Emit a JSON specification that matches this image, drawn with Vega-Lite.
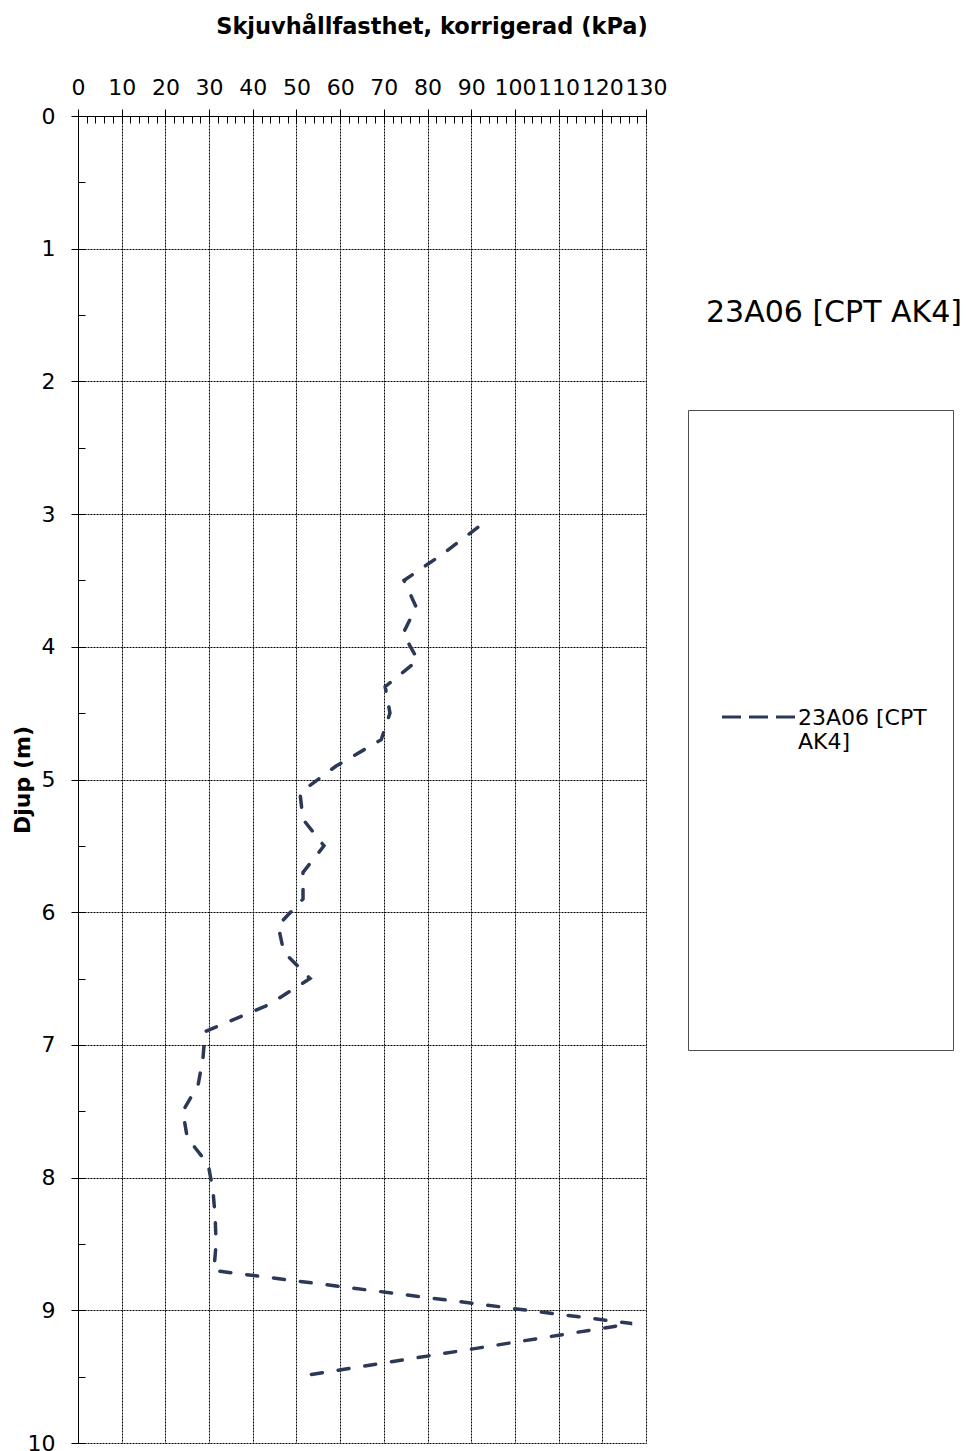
{
  "$schema": "https://vega.github.io/schema/vega-lite/v6.json",
  "width": 568,
  "height": 1327,
  "autosize": {"type": "none"},
  "padding": {"left": 78, "top": 116, "right": 320, "bottom": 8},
  "background": "white",
  "config": {"view": {"stroke": null}, "font": "DejaVu Sans"},
  "title": {"text": "23A06 [CPT AK4]", "anchor": "start", "frame": "group", "dx": 628, "dy": 332, "fontSize": 30, "fontWeight": "normal", "font": "DejaVu Sans", "color": "#000", "baseline": "middle"},
  "data": {"values": [
    {"serie": "23A06 [CPT AK4]", "djup": 3.1, "kPa": 91.5},
    {"serie": "23A06 [CPT AK4]", "djup": 3.3, "kPa": 83.5},
    {"serie": "23A06 [CPT AK4]", "djup": 3.5, "kPa": 74.6},
    {"serie": "23A06 [CPT AK4]", "djup": 3.7, "kPa": 77.4},
    {"serie": "23A06 [CPT AK4]", "djup": 3.9, "kPa": 74.4},
    {"serie": "23A06 [CPT AK4]", "djup": 4.1, "kPa": 77.8},
    {"serie": "23A06 [CPT AK4]", "djup": 4.3, "kPa": 70.3},
    {"serie": "23A06 [CPT AK4]", "djup": 4.5, "kPa": 71.4},
    {"serie": "23A06 [CPT AK4]", "djup": 4.7, "kPa": 69.4},
    {"serie": "23A06 [CPT AK4]", "djup": 4.9, "kPa": 59.0},
    {"serie": "23A06 [CPT AK4]", "djup": 5.1, "kPa": 50.8},
    {"serie": "23A06 [CPT AK4]", "djup": 5.3, "kPa": 51.5},
    {"serie": "23A06 [CPT AK4]", "djup": 5.5, "kPa": 56.3},
    {"serie": "23A06 [CPT AK4]", "djup": 5.7, "kPa": 51.5},
    {"serie": "23A06 [CPT AK4]", "djup": 5.9, "kPa": 51.5},
    {"serie": "23A06 [CPT AK4]", "djup": 6.1, "kPa": 45.8},
    {"serie": "23A06 [CPT AK4]", "djup": 6.3, "kPa": 47.1},
    {"serie": "23A06 [CPT AK4]", "djup": 6.5, "kPa": 53.1},
    {"serie": "23A06 [CPT AK4]", "djup": 6.7, "kPa": 43.5},
    {"serie": "23A06 [CPT AK4]", "djup": 6.9, "kPa": 29.1},
    {"serie": "23A06 [CPT AK4]", "djup": 7.1, "kPa": 28.6},
    {"serie": "23A06 [CPT AK4]", "djup": 7.3, "kPa": 27.5},
    {"serie": "23A06 [CPT AK4]", "djup": 7.5, "kPa": 24.0},
    {"serie": "23A06 [CPT AK4]", "djup": 7.7, "kPa": 25.0},
    {"serie": "23A06 [CPT AK4]", "djup": 7.9, "kPa": 29.8},
    {"serie": "23A06 [CPT AK4]", "djup": 8.1, "kPa": 30.9},
    {"serie": "23A06 [CPT AK4]", "djup": 8.3, "kPa": 31.4},
    {"serie": "23A06 [CPT AK4]", "djup": 8.5, "kPa": 31.6},
    {"serie": "23A06 [CPT AK4]", "djup": 8.7, "kPa": 31.1},
    {"serie": "23A06 [CPT AK4]", "djup": 8.9, "kPa": 79.0},
    {"serie": "23A06 [CPT AK4]", "djup": 9.1, "kPa": 126.8},
    {"serie": "23A06 [CPT AK4]", "djup": 9.3, "kPa": 88.6},
    {"serie": "23A06 [CPT AK4]", "djup": 9.5, "kPa": 50.4}
  ]},
  "layer": [
    {
      "mark": {"type": "line", "strokeWidth": 3.5, "strokeDash": [11, 16], "strokeCap": "round"},
      "encoding": {
        "x": {"field": "kPa", "type": "quantitative",
          "scale": {"domain": [0, 130], "nice": false, "zero": false},
          "axis": {"orient": "top", "values": [0,10,20,30,40,50,60,70,80,90,100,110,120,130], "format": "d",
            "title": "Skjuvhållfasthet, korrigerad (kPa)", "titleFont": "DejaVu Sans", "titleFontSize": 22.5, "titleFontWeight": "bold", "titleColor": "#000",
            "titleX": 353.5, "titleY": -83, "titleAlign": "center", "titleBaseline": "alphabetic",
            "labelFont": "DejaVu Sans", "labelFontSize": 22, "labelColor": "#000", "labelPadding": 15, "labelBaseline": "alphabetic",
            "labelOverlap": false, "labelFlush": false,
            "tickSize": 7, "tickColor": "#000", "domainColor": "#000",
            "grid": true, "gridColor": "#000", "gridDash": [2, 1], "gridOpacity": 1}},
        "y": {"field": "djup", "type": "quantitative",
          "scale": {"domain": [0, 10], "reverse": true, "nice": false, "zero": false},
          "axis": {"orient": "left", "values": [0,1,2,3,4,5,6,7,8,9,10], "format": "d",
            "title": "Djup (m)", "titleFont": "DejaVu Sans", "titleFontSize": 22, "titleFontWeight": "bold", "titleColor": "#000",
            "titleX": -56, "titleY": 663.5, "titleAngle": 270, "titleAlign": "center", "titleBaseline": "middle",
            "labelFont": "DejaVu Sans", "labelFontSize": 22, "labelColor": "#000", "labelPadding": 16, "labelBaseline": "middle",
            "labelOverlap": false, "labelFlush": false,
            "tickSize": 7, "tickColor": "#000", "domainColor": "#000",
            "grid": true, "gridColor": "#000", "gridDash": [2, 1], "gridOpacity": 1}},
        "order": {"field": "djup", "type": "quantitative"},
        "color": {"field": "serie", "type": "nominal", "scale": {"range": ["#2b3856"]},
          "legend": {"orient": "none", "legendX": 610, "legendY": 294, "title": null,
            "symbolType": "M0.5945,1.016M-0.118,-0.026H0.118",
            "symbolSize": 383161, "symbolStrokeWidth": 3, "symbolDash": [19, 8], "symbolOffset": -244.5,
            "labelFont": "DejaVu Sans", "labelFontSize": 22, "labelColor": "#000",
            "labelExpr": "['23A06 [CPT', 'AK4]']", "labelBaseline": "alphabetic", "labelOffset": -271.5, "labelLimit": 300,
            "padding": 4, "strokeColor": "#4d4d4d", "fillColor": "white"}}
      }
    },
    {
      "mark": {"type": "point", "opacity": 0},
      "encoding": {
        "x": {"field": "kPa", "type": "quantitative",
          "axis": {"orient": "top", "values": [0,2,4,6,8,10,12,14,16,18,20,22,24,26,28,30,32,34,36,38,40,42,44,46,48,50,52,54,56,58,60,62,64,66,68,70,72,74,76,78,80,82,84,86,88,90,92,94,96,98,100,102,104,106,108,110,112,114,116,118,120,122,124,126,128,130],
            "labels": false, "domain": false, "grid": false, "title": null, "tickSize": -7, "tickColor": "#000"}},
        "y": {"field": "djup", "type": "quantitative",
          "axis": {"orient": "left", "values": [0,0.5,1,1.5,2,2.5,3,3.5,4,4.5,5,5.5,6,6.5,7,7.5,8,8.5,9,9.5,10],
            "labels": false, "domain": false, "grid": false, "title": null, "tickSize": -7, "tickColor": "#000"}}
      }
    }
  ],
  "resolve": {"axis": {"x": "independent", "y": "independent"}}
}
